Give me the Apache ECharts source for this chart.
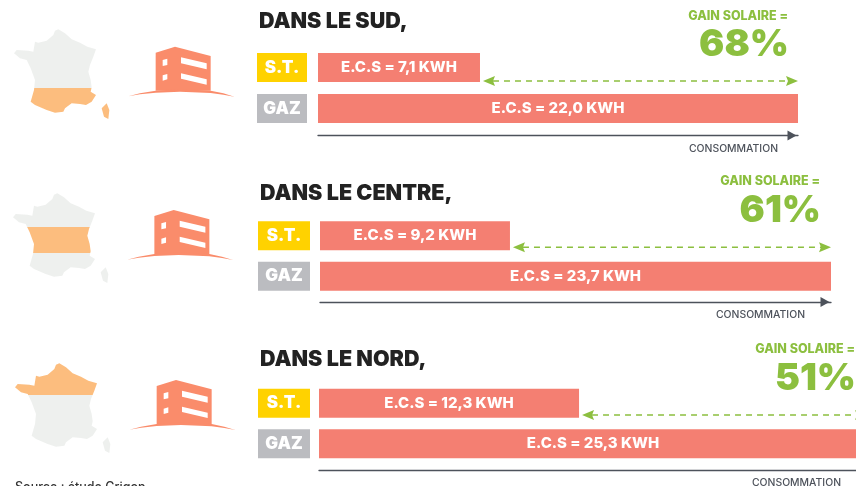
<!DOCTYPE html>
<html><head><meta charset="utf-8">
<style>html,body{margin:0;padding:0;background:#fff}#c{width:856px;height:486px}</style>
<script src="https://cdn.jsdelivr.net/npm/echarts@6/dist/echarts.min.js"></script>
</head><body><div id="c"></div>
<script>
const categories = ['S.T.', 'GAZ'];
const regions = ['DANS LE SUD,', 'DANS LE CENTRE,', 'DANS LE NORD,'];
const stValues = [7.1, 9.2, 12.3];
const gazValues = [22.0, 23.7, 25.3];
const gains = [68, 61, 51];
const gainTitle = 'GAIN SOLAIRE =';
const axisName = 'CONSOMMATION';
const sourceText = 'Source : étude Grigon';

const FONT = 'Inter, "Open Sans", sans-serif';
const C = {bar:'#f47f72', yellow:'#ffd200', gray:'#bbbcc0', green:'#8cbf3f', axis:'#4d525b',
           map:'#eef0ee', hot:'#fcbd7e', bld:'#fa8c6b', title:'#222222'};

// layout of each panel (pixels)
const panels = [
 {left:318,width:480,top:47,height:82,axisMin:-0.49,axisY:135.5,arrowDy:-27.5,boxW:50,margin:11,
  titleY:11,titleX:259,gainRight:788,gainY:16,pctY:45,nameX:689,
  mapDx:0,mapDy:0,bldDx:0,bldDy:0,bandTop:88.5,bandBot:125,corsica:true},
 {left:320,width:511,top:215.5,height:81,axisMin:0.62,axisY:302,arrowDy:-29,boxW:52,margin:10,
  titleY:183,titleX:260,gainRight:820,gainY:181,pctY:211,nameX:716,
  mapDx:-1,mapDy:164,bldDx:-1.3,bldDy:163.3,bandTop:226.7,bandBot:252.7,corsica:false},
 {left:319,width:548,top:383,height:81,axisMin:0.56,axisY:470,arrowDy:-28.75,boxW:52,margin:9,
  titleY:349,titleX:260,gainRight:855,gainY:349,pctY:379,nameX:752,
  mapDx:1,mapDy:334,bldDx:1,bldDy:333.3,bandTop:360,bandBot:395,corsica:false}
];

// decorative silhouettes, in pixels of the first panel
const france = [[175,88],[195,100],[215,118],[240,128],[262,140],[288,148],[280,170],[270,195],[265,215],[272,240],[275,262],[272,275],[288,285],[275,305],[258,315],[240,312],[215,310],[195,325],[190,335],[165,338],[140,330],[105,315],[92,305],[102,270],[105,240],[92,205],[80,180],[60,175],[42,160],[50,150],[85,152],[100,155],[105,125],[115,128],[140,122],[160,105],[165,92]].map(p=>[p[0]/3,p[1]/3]);
const corsica = [[320,310],[328,330],[325,357],[312,350],[305,325]].map(p=>[p[0]/3,p[1]/3]);
const bldBody = [[467,158],[525,140],[632,168],[632,272],[467,272]].map(p=>[p[0]/3,p[1]/3]);
const bldWin = [
 [[488,180],[502,176],[502,195],[488,198]],[[488,226],[502,222],[502,238],[488,242]],
 [[543,172],[620,190],[620,208],[543,190]],[[543,220],[620,238],[620,254],[543,236]]
].map(w=>w.map(p=>[p[0]/3,p[1]/3]));
const bldGround = [[385,289],[420,280],[467,272],[540,267],[632,272],[670,280],[703,290],[670,284],[632,279],[540,275],[467,278],[420,283]].map(p=>[p[0]/3,p[1]/3]);

const fmt = v => v.toFixed(1).replace('.', ',');

const grid=[], xAxis=[], yAxis=[], series=[], title=[], graphic=[];

function barItem(params, api){
  const p = api.coord([api.value(0), api.value(1)]);
  const x0 = params.coordSys.x, h = 29;
  return {type:'rect', shape:{x:x0, y:p[1]-h/2, width:p[0]-x0, height:h}, style:{fill:C.bar},
    textContent:{style:{text:'E.C.S = '+fmt(api.value(0))+' KWH', fill:'#fff', font:'800 15px '+FONT}},
    textConfig:{position:'inside'}};
}
function gainItem(dy){ return function(params, api){
  const a = api.coord([api.value(0), api.value(1)]);
  const b = api.coord([api.value(2), api.value(1)]);
  const y = a[1]+dy, l = a[0]+3, r = b[0];
  return {type:'group', children:[
    {type:'line', shape:{x1:l+10,y1:y,x2:r-10,y2:y}, style:{stroke:C.green,lineWidth:1.4,lineDash:[6,5]}},
    {type:'polygon', shape:{points:[[l,y],[l+12,y-5],[l+10,y],[l+12,y+5]]}, style:{fill:C.green}},
    {type:'polygon', shape:{points:[[r,y],[r-12,y-5],[r-10,y],[r-12,y+5]]}, style:{fill:C.green}}
  ]};
};}

panels.forEach((P,i)=>{
  grid.push({left:P.left, width:P.width, top:P.top, height:P.height, outerBoundsMode:'none'});
  xAxis.push({gridIndex:i, type:'value', min:P.axisMin, max:gazValues[i], position:'bottom',
    offset:P.axisY-(P.top+P.height),
    axisLabel:{show:false}, axisTick:{show:false}, splitLine:{show:false},
    axisLine:{show:true, onZero:false, symbol:['none','triangle'], symbolSize:[10,9], symbolOffset:[0,-6], lineStyle:{color:C.axis,width:1.3}},
    name:axisName, nameLocation:'end', nameGap:P.nameX-(P.left+P.width),
    nameTextStyle:{color:C.axis, fontFamily:FONT, fontSize:10.4, fontWeight:500, verticalAlign:'top', padding:[8,0,0,0]}});
  yAxis.push({gridIndex:i, type:'category', data:categories, inverse:true,
    axisLine:{show:false}, axisTick:{show:false}, splitLine:{show:false},
    axisLabel:{margin:P.margin, formatter:v=>v==='GAZ'?'{g|'+v+'}':'{s|'+v+'}',
      rich:{s:{width:P.boxW,height:29,align:'center',backgroundColor:C.yellow,color:'#fff',fontFamily:FONT,fontWeight:900,fontSize:17},
            g:{width:P.boxW,height:29,align:'center',backgroundColor:C.gray,color:'#fff',fontFamily:FONT,fontWeight:900,fontSize:17}}}});
  series.push({type:'custom', name:regions[i], xAxisIndex:i, yAxisIndex:i, clip:false,
    encode:{x:0,y:1}, data:[[stValues[i],0],[gazValues[i],1]], renderItem:barItem});
  series.push({type:'custom', name:gainTitle, xAxisIndex:i, yAxisIndex:i, clip:false,
    encode:{x:0,y:1}, data:[[stValues[i],1,gazValues[i]]], renderItem:gainItem(P.arrowDy)});
  title.push({text:regions[i], left:P.titleX, top:P.titleY, padding:0,
    textStyle:{color:C.title, fontFamily:FONT, fontWeight:900, fontSize:21.5}});

  graphic.push({type:'text', x:P.gainRight, y:P.gainY,
    style:{text:gainTitle, fill:C.green, font:'800 12.5px '+FONT, textAlign:'right', textVerticalAlign:'middle'}});
  graphic.push({type:'text', x:P.gainRight+1, y:P.pctY,
    style:{text:gains[i]+'%', fill:C.green, font:'900 37.5px '+FONT, textAlign:'right', textVerticalAlign:'middle'}});

  // France map with its highlighted band
  const shift=(pts,dx,dy)=>pts.map(p=>[p[0]+dx,p[1]+dy]);
  const fr=shift(france,P.mapDx,P.mapDy), ys=fr.map(p=>p[1]), y0=Math.min(...ys), y1=Math.max(...ys);
  const t0=Math.max(0,(P.bandTop-y0)/(y1-y0)), t1=Math.min(1,(P.bandBot-y0)/(y1-y0));
  const stops=[];
  if(t0>0){stops.push({offset:0,color:C.map},{offset:t0,color:C.map});}
  stops.push({offset:t0,color:C.hot},{offset:t1,color:C.hot});
  if(t1<1){stops.push({offset:t1,color:C.map},{offset:1,color:C.map});}
  graphic.push({type:'polygon', shape:{points:fr}, style:{fill:new echarts.graphic.LinearGradient(0,0,0,1,stops)}});
  graphic.push({type:'polygon', shape:{points:shift(corsica,P.mapDx,P.mapDy)}, style:{fill:P.corsica?C.hot:C.map}});

  // building
  graphic.push({type:'polygon', shape:{points:shift(bldBody,P.bldDx,P.bldDy)}, style:{fill:C.bld}});
  bldWin.forEach(w=>graphic.push({type:'polygon', shape:{points:shift(w,P.bldDx,P.bldDy)}, style:{fill:'#fff'}}));
  graphic.push({type:'polygon', shape:{points:shift(bldGround,P.bldDx,P.bldDy)}, style:{fill:C.bld}});
});
graphic.push({type:'text', x:15, y:480.5, style:{text:sourceText, fill:'#333', font:'500 12.5px '+FONT}});

const chart = echarts.init(document.getElementById('c'), null, {renderer:'canvas'});
chart.setOption({animation:false, backgroundColor:'#fff', title, grid, xAxis, yAxis, series, graphic});
</script></body></html>
